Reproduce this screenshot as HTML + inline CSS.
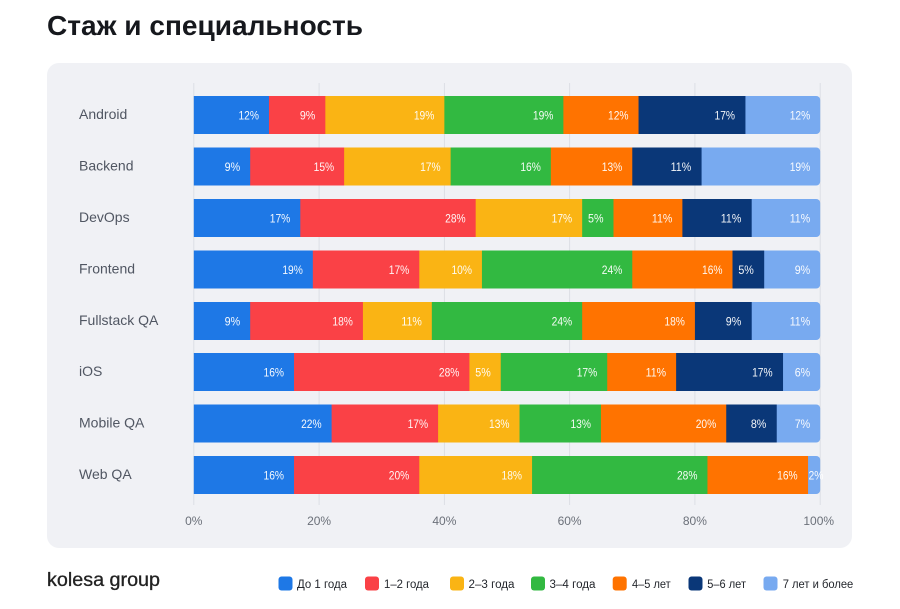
<!DOCTYPE html>
<html>
<head>
<meta charset="utf-8">
<style>
html,body{margin:0;padding:0;background:#fff;}
svg{display:block;}
.v{font-size:12px;fill:#fff;text-anchor:end;}
.c{font-size:14px;fill:#505662;}
.t{font-size:12px;fill:#6b7079;text-anchor:middle;}
.l{font-size:11.5px;fill:#23262c;}
</style>
</head>
<body>
<svg width="900" height="609" viewBox="0 0 900 609" font-family="'Liberation Sans','DejaVu Sans',sans-serif">
<rect x="0" y="0" width="900" height="609" fill="#fff"/>
<text x="47" y="35" font-size="28" font-weight="700" fill="#16181d" textLength="316" lengthAdjust="spacingAndGlyphs">Стаж и специальность</text>
<rect x="47" y="63" width="805" height="485" rx="12" fill="#f0f1f5"/>

<g stroke="#dcdfe5" stroke-width="1">
<line x1="193.8" y1="83" x2="193.8" y2="505"/>
<line x1="319.1" y1="83" x2="319.1" y2="505"/>
<line x1="444.4" y1="83" x2="444.4" y2="505"/>
<line x1="569.6" y1="83" x2="569.6" y2="505"/>
<line x1="694.9" y1="83" x2="694.9" y2="505"/>
<line x1="820.2" y1="83" x2="820.2" y2="505"/>
</g>

<g class="c">
<text x="79" y="119">Android</text>
<text x="79" y="170.5">Backend</text>
<text x="79" y="222">DevOps</text>
<text x="79" y="273.5">Frontend</text>
<text x="79" y="325">Fullstack QA</text>
<text x="79" y="376">iOS</text>
<text x="79" y="427.5">Mobile QA</text>
<text x="79" y="479">Web QA</text>
</g>

<!-- Android -->
<g>
<rect x="739" y="96" width="81.2" height="38" rx="4" fill="#78aaf0"/>
<rect x="193.8" y="96" width="75.6" height="38" fill="#1e78e6"/>
<rect x="268.97" y="96" width="56.8" height="38" fill="#fa4146"/>
<rect x="325.34" y="96" width="119.4" height="38" fill="#fab414"/>
<rect x="444.36" y="96" width="119.4" height="38" fill="#32b941"/>
<rect x="563.38" y="96" width="75.6" height="38" fill="#ff7300"/>
<rect x="638.54" y="96" width="106.9" height="38" fill="#0a3778"/>
</g>
<!-- Backend -->
<g>
<rect x="695.18" y="147.5" width="125.02" height="38" rx="4" fill="#78aaf0"/>
<rect x="193.8" y="147.5" width="56.8" height="38" fill="#1e78e6"/>
<rect x="250.18" y="147.5" width="94.4" height="38" fill="#fa4146"/>
<rect x="344.14" y="147.5" width="106.9" height="38" fill="#fab414"/>
<rect x="450.62" y="147.5" width="100.6" height="38" fill="#32b941"/>
<rect x="550.85" y="147.5" width="81.8" height="38" fill="#ff7300"/>
<rect x="632.28" y="147.5" width="69.3" height="38" fill="#0a3778"/>
</g>
<!-- DevOps -->
<g>
<rect x="745.3" y="199" width="74.9" height="38" rx="4" fill="#78aaf0"/>
<rect x="193.8" y="199" width="106.9" height="38" fill="#1e78e6"/>
<rect x="300.29" y="199" width="175.8" height="38" fill="#fa4146"/>
<rect x="475.68" y="199" width="106.9" height="38" fill="#fab414"/>
<rect x="582.17" y="199" width="31.7" height="38" fill="#32b941"/>
<rect x="613.49" y="199" width="69.3" height="38" fill="#ff7300"/>
<rect x="682.39" y="199" width="69.3" height="38" fill="#0a3778"/>
</g>
<!-- Frontend -->
<g>
<rect x="757.82" y="250.5" width="62.38" height="38" rx="4" fill="#78aaf0"/>
<rect x="193.8" y="250.5" width="119.4" height="38" fill="#1e78e6"/>
<rect x="312.82" y="250.5" width="106.9" height="38" fill="#fa4146"/>
<rect x="419.3" y="250.5" width="63.0" height="38" fill="#fab414"/>
<rect x="481.94" y="250.5" width="150.7" height="38" fill="#32b941"/>
<rect x="632.28" y="250.5" width="100.6" height="38" fill="#ff7300"/>
<rect x="732.5" y="250.5" width="31.7" height="38" fill="#0a3778"/>
</g>
<!-- Fullstack QA -->
<g>
<rect x="745.3" y="302" width="74.9" height="38" rx="4" fill="#78aaf0"/>
<rect x="193.8" y="302" width="56.8" height="38" fill="#1e78e6"/>
<rect x="250.18" y="302" width="113.2" height="38" fill="#fa4146"/>
<rect x="362.93" y="302" width="69.3" height="38" fill="#fab414"/>
<rect x="431.83" y="302" width="150.7" height="38" fill="#32b941"/>
<rect x="582.17" y="302" width="113.2" height="38" fill="#ff7300"/>
<rect x="694.92" y="302" width="56.8" height="38" fill="#0a3778"/>
</g>
<!-- iOS -->
<g>
<rect x="776.62" y="353" width="43.58" height="38" rx="4" fill="#78aaf0"/>
<rect x="193.8" y="353" width="100.6" height="38" fill="#1e78e6"/>
<rect x="294.02" y="353" width="175.8" height="38" fill="#fa4146"/>
<rect x="469.42" y="353" width="31.7" height="38" fill="#fab414"/>
<rect x="500.74" y="353" width="106.9" height="38" fill="#32b941"/>
<rect x="607.22" y="353" width="69.3" height="38" fill="#ff7300"/>
<rect x="676.13" y="353" width="106.9" height="38" fill="#0a3778"/>
</g>
<!-- Mobile QA -->
<g>
<rect x="770.35" y="404.5" width="49.85" height="38" rx="4" fill="#78aaf0"/>
<rect x="193.8" y="404.5" width="138.2" height="38" fill="#1e78e6"/>
<rect x="331.61" y="404.5" width="106.9" height="38" fill="#fa4146"/>
<rect x="438.1" y="404.5" width="81.8" height="38" fill="#fab414"/>
<rect x="519.53" y="404.5" width="81.8" height="38" fill="#32b941"/>
<rect x="600.96" y="404.5" width="125.7" height="38" fill="#ff7300"/>
<rect x="726.24" y="404.5" width="50.5" height="38" fill="#0a3778"/>
</g>
<!-- Web QA -->
<g>
<rect x="801.67" y="456" width="18.53" height="38" rx="4" fill="#78aaf0"/>
<rect x="193.8" y="456" width="100.6" height="38" fill="#1e78e6"/>
<rect x="294.02" y="456" width="125.7" height="38" fill="#fa4146"/>
<rect x="419.3" y="456" width="113.2" height="38" fill="#fab414"/>
<rect x="532.06" y="456" width="175.8" height="38" fill="#32b941"/>
<rect x="707.45" y="456" width="100.6" height="38" fill="#ff7300"/>
</g>

<g class="v" fill-opacity="0.95">
<!-- Android -->
<text x="258.97" y="119.3" textLength="20.5" lengthAdjust="spacingAndGlyphs">12%</text>
<text x="315.34" y="119.3" textLength="15.5" lengthAdjust="spacingAndGlyphs">9%</text>
<text x="434.36" y="119.3" textLength="20.5" lengthAdjust="spacingAndGlyphs">19%</text>
<text x="553.38" y="119.3" textLength="20.5" lengthAdjust="spacingAndGlyphs">19%</text>
<text x="628.54" y="119.3" textLength="20.5" lengthAdjust="spacingAndGlyphs">12%</text>
<text x="735.03" y="119.3" textLength="20.5" lengthAdjust="spacingAndGlyphs">17%</text>
<text x="810.2" y="119.3" textLength="20.5" lengthAdjust="spacingAndGlyphs">12%</text>
<!-- Backend -->
<text x="240.18" y="170.8" textLength="15.5" lengthAdjust="spacingAndGlyphs">9%</text>
<text x="334.14" y="170.8" textLength="20.5" lengthAdjust="spacingAndGlyphs">15%</text>
<text x="440.62" y="170.8" textLength="20.5" lengthAdjust="spacingAndGlyphs">17%</text>
<text x="540.85" y="170.8" textLength="20.5" lengthAdjust="spacingAndGlyphs">16%</text>
<text x="622.28" y="170.8" textLength="20.5" lengthAdjust="spacingAndGlyphs">13%</text>
<text x="691.18" y="170.8" textLength="20.5" lengthAdjust="spacingAndGlyphs">11%</text>
<text x="810.2" y="170.8" textLength="20.5" lengthAdjust="spacingAndGlyphs">19%</text>
<!-- DevOps -->
<text x="290.29" y="222.3" textLength="20.5" lengthAdjust="spacingAndGlyphs">17%</text>
<text x="465.68" y="222.3" textLength="20.5" lengthAdjust="spacingAndGlyphs">28%</text>
<text x="572.17" y="222.3" textLength="20.5" lengthAdjust="spacingAndGlyphs">17%</text>
<text x="603.49" y="222.3" textLength="15.5" lengthAdjust="spacingAndGlyphs">5%</text>
<text x="672.39" y="222.3" textLength="20.5" lengthAdjust="spacingAndGlyphs">11%</text>
<text x="741.3" y="222.3" textLength="20.5" lengthAdjust="spacingAndGlyphs">11%</text>
<text x="810.2" y="222.3" textLength="20.5" lengthAdjust="spacingAndGlyphs">11%</text>
<!-- Frontend -->
<text x="302.82" y="273.8" textLength="20.5" lengthAdjust="spacingAndGlyphs">19%</text>
<text x="409.3" y="273.8" textLength="20.5" lengthAdjust="spacingAndGlyphs">17%</text>
<text x="471.94" y="273.8" textLength="20.5" lengthAdjust="spacingAndGlyphs">10%</text>
<text x="622.28" y="273.8" textLength="20.5" lengthAdjust="spacingAndGlyphs">24%</text>
<text x="722.5" y="273.8" textLength="20.5" lengthAdjust="spacingAndGlyphs">16%</text>
<text x="753.82" y="273.8" textLength="15.5" lengthAdjust="spacingAndGlyphs">5%</text>
<text x="810.2" y="273.8" textLength="15.5" lengthAdjust="spacingAndGlyphs">9%</text>
<!-- Fullstack QA -->
<text x="240.18" y="325.3" textLength="15.5" lengthAdjust="spacingAndGlyphs">9%</text>
<text x="352.93" y="325.3" textLength="20.5" lengthAdjust="spacingAndGlyphs">18%</text>
<text x="421.83" y="325.3" textLength="20.5" lengthAdjust="spacingAndGlyphs">11%</text>
<text x="572.17" y="325.3" textLength="20.5" lengthAdjust="spacingAndGlyphs">24%</text>
<text x="684.92" y="325.3" textLength="20.5" lengthAdjust="spacingAndGlyphs">18%</text>
<text x="741.3" y="325.3" textLength="15.5" lengthAdjust="spacingAndGlyphs">9%</text>
<text x="810.2" y="325.3" textLength="20.5" lengthAdjust="spacingAndGlyphs">11%</text>
<!-- iOS -->
<text x="284.02" y="376.3" textLength="20.5" lengthAdjust="spacingAndGlyphs">16%</text>
<text x="459.42" y="376.3" textLength="20.5" lengthAdjust="spacingAndGlyphs">28%</text>
<text x="490.74" y="376.3" textLength="15.5" lengthAdjust="spacingAndGlyphs">5%</text>
<text x="597.22" y="376.3" textLength="20.5" lengthAdjust="spacingAndGlyphs">17%</text>
<text x="666.13" y="376.3" textLength="20.5" lengthAdjust="spacingAndGlyphs">11%</text>
<text x="772.62" y="376.3" textLength="20.5" lengthAdjust="spacingAndGlyphs">17%</text>
<text x="810.2" y="376.3" textLength="15.5" lengthAdjust="spacingAndGlyphs">6%</text>
<!-- Mobile QA -->
<text x="321.61" y="427.8" textLength="20.5" lengthAdjust="spacingAndGlyphs">22%</text>
<text x="428.1" y="427.8" textLength="20.5" lengthAdjust="spacingAndGlyphs">17%</text>
<text x="509.53" y="427.8" textLength="20.5" lengthAdjust="spacingAndGlyphs">13%</text>
<text x="590.96" y="427.8" textLength="20.5" lengthAdjust="spacingAndGlyphs">13%</text>
<text x="716.24" y="427.8" textLength="20.5" lengthAdjust="spacingAndGlyphs">20%</text>
<text x="766.35" y="427.8" textLength="15.5" lengthAdjust="spacingAndGlyphs">8%</text>
<text x="810.2" y="427.8" textLength="15.5" lengthAdjust="spacingAndGlyphs">7%</text>
<!-- Web QA -->
<text x="284.02" y="479.3" textLength="20.5" lengthAdjust="spacingAndGlyphs">16%</text>
<text x="409.3" y="479.3" textLength="20.5" lengthAdjust="spacingAndGlyphs">20%</text>
<text x="522.06" y="479.3" textLength="20.5" lengthAdjust="spacingAndGlyphs">18%</text>
<text x="697.45" y="479.3" textLength="20.5" lengthAdjust="spacingAndGlyphs">28%</text>
<text x="797.67" y="479.3" textLength="20.5" lengthAdjust="spacingAndGlyphs">16%</text>
<text x="808.5" y="479.3" style="text-anchor:start" textLength="15" lengthAdjust="spacingAndGlyphs">2%</text>
</g>

<g class="t">
<text x="193.8" y="525">0%</text>
<text x="319.1" y="525">20%</text>
<text x="444.4" y="525">40%</text>
<text x="569.6" y="525">60%</text>
<text x="694.9" y="525">80%</text>
<text x="818.7" y="525">100%</text>
</g>

<text x="47" y="586" font-size="19" fill="#222" stroke="#222" stroke-width="0.3" textLength="113" lengthAdjust="spacingAndGlyphs">kolesa group</text>

<g>
<rect x="278.5" y="576.5" width="14" height="14" rx="3" fill="#1e78e6"/>
<text class="l" x="297" y="588" textLength="50" lengthAdjust="spacingAndGlyphs">До 1 года</text>
<rect x="365" y="576.5" width="14" height="14" rx="3" fill="#fa4146"/>
<text class="l" x="384" y="588" textLength="45" lengthAdjust="spacingAndGlyphs">1–2 года</text>
<rect x="450" y="576.5" width="14" height="14" rx="3" fill="#fab414"/>
<text class="l" x="468.5" y="588" textLength="46" lengthAdjust="spacingAndGlyphs">2–3 года</text>
<rect x="531" y="576.5" width="14" height="14" rx="3" fill="#32b941"/>
<text class="l" x="549.5" y="588" textLength="46" lengthAdjust="spacingAndGlyphs">3–4 года</text>
<rect x="612.7" y="576.5" width="14" height="14" rx="3" fill="#ff7300"/>
<text class="l" x="632" y="588" textLength="38.7" lengthAdjust="spacingAndGlyphs">4–5 лет</text>
<rect x="688.5" y="576.5" width="14" height="14" rx="3" fill="#0a3778"/>
<text class="l" x="707.3" y="588" textLength="38.7" lengthAdjust="spacingAndGlyphs">5–6 лет</text>
<rect x="763.5" y="576.5" width="14" height="14" rx="3" fill="#78aaf0"/>
<text class="l" x="782.7" y="588" textLength="70.6" lengthAdjust="spacingAndGlyphs">7 лет и более</text>
</g>
</svg>
</body>
</html>
